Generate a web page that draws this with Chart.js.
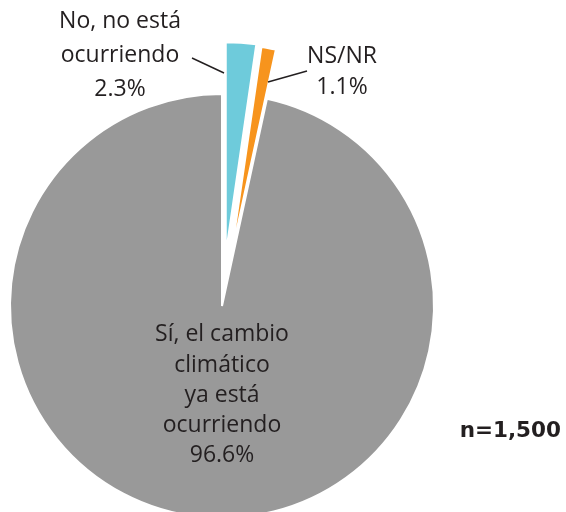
<!DOCTYPE html>
<html>
<head>
<meta charset="utf-8">
<script src="https://cdn.jsdelivr.net/npm/chart.js@4.4.1/dist/chart.umd.min.js"></script>
<style>
  html, body { margin: 0; padding: 0; background: #fff; overflow: hidden; }
  #wrap { position: relative; width: 566px; height: 612px; }
</style>
</head>
<body>
<div id="wrap"><canvas id="myChart"></canvas></div>
<script>
const categories = [
  ["No, no está", "ocurriendo"],
  ["NS/NR"],
  ["Sí, el cambio", "climático", "ya está", "ocurriendo"],
];
const values = [2.3, 1.1, 96.6];
const colors = ["#6ecbdb", "#f7941d", "#999999"];
const explodeBy = [52, 50, 0];
const sampleNote = "n=1,500";

// label layout, relative to pie centre
const labelPos = [
  { dx: -102, dy: [-278, -244, -210], line: [-30, -248, 2, -233] },
  { dx: 120, dy: [-243, -212], line: [46, -224, 85, -235] },
  { dx: 0, dy: [35, 66, 96, 126, 156] },
];

// pull the small slices out of the pie (whole slice moves, like the original)
const explode = {
  id: "explode",
  beforeDatasetsDraw(chart) {
    chart.getDatasetMeta(0).data.forEach((arc, i) => {
      const a = (arc.startAngle + arc.endAngle) / 2;
      arc._sx = Math.cos(a) * explodeBy[i];
      arc._sy = Math.sin(a) * explodeBy[i];
      arc.x += arc._sx;
      arc.y += arc._sy;
    });
  },
  afterDatasetsDraw(chart) {
    chart.getDatasetMeta(0).data.forEach((arc) => {
      arc.x -= arc._sx;
      arc.y -= arc._sy;
    });
  },
};

const pieLabels = {
  id: "pieLabels",
  afterDraw(chart) {
    const ctx = chart.ctx;
    const arc = chart.getDatasetMeta(0).data[2];
    const cx = arc.x, cy = arc.y;
    ctx.save();
    ctx.fillStyle = "#231f20";
    ctx.strokeStyle = "#231f20";
    ctx.lineWidth = 1.4;
    ctx.font = "23px 'Open Sans'";
    ctx.textAlign = "center";
    ctx.textBaseline = "alphabetic";
    categories.forEach((cat, i) => {
      const p = labelPos[i];
      const lines = cat.concat([values[i].toFixed(1) + "%"]);
      lines.forEach((t, j) => ctx.fillText(t, cx + p.dx, cy + p.dy[j]));
      if (p.line) {
        ctx.beginPath();
        ctx.moveTo(cx + p.line[0], cy + p.line[1]);
        ctx.lineTo(cx + p.line[2], cy + p.line[3]);
        ctx.stroke();
      }
    });
    ctx.font = "bold 21.5px 'DejaVu Sans'";
    ctx.textAlign = "right";
    ctx.fillText(sampleNote, 561, 437);
    ctx.restore();
  },
};

const ctx = document.getElementById("myChart");
new Chart(ctx, {
  type: "pie",
  data: {
    labels: categories.map((c) => c.join(" ")),
    datasets: [
      {
        data: values,
        backgroundColor: colors,
        borderColor: "#ffffff",
        borderWidth: 2,
        hoverOffset: 0,
        radius: 212,
      },
    ],
  },
  options: {
    responsive: true,
    maintainAspectRatio: false,
    animation: false,
    events: [],
    layout: { padding: { right: 122 } },
    plugins: {
      legend: { display: false },
      tooltip: { enabled: false },
    },
  },
  plugins: [explode, pieLabels],
});
</script>
</body>
</html>
